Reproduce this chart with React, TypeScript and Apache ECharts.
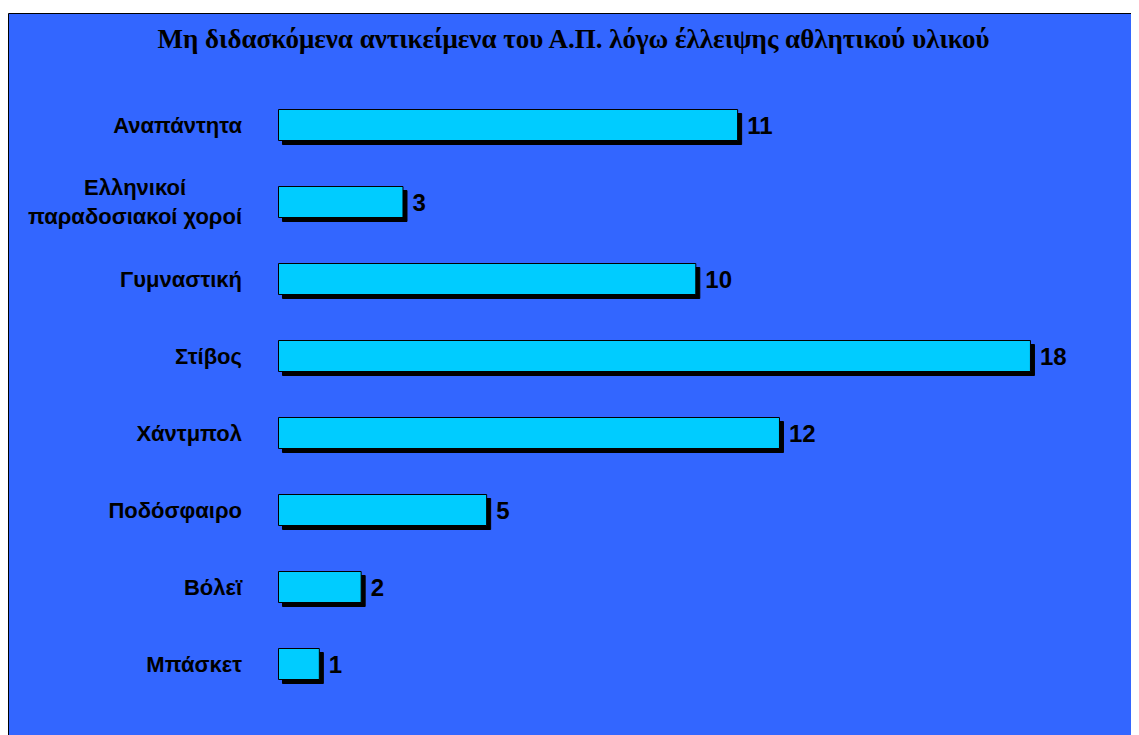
import React, { useEffect, useRef } from "react";
import * as echarts from "echarts";

const title = "Μη διδασκόμενα αντικείμενα του Α.Π. λόγω έλλειψης αθλητικού υλικού";
const categories = [
  "Αναπάντητα",
  "Ελληνικοί\nπαραδοσιακοί χοροί",
  "Γυμναστική",
  "Στίβος",
  "Χάντμπολ",
  "Ποδόσφαιρο",
  "Βόλεϊ",
  "Μπάσκετ",
];
const values = [11, 3, 10, 18, 12, 5, 2, 1];

export default function App() {
  const ref = useRef<HTMLDivElement>(null);
  useEffect(() => {
    if (!ref.current) return;
    const chart = echarts.init(ref.current, null, { renderer: "svg" });
    chart.setOption({
      animation: false,
      backgroundColor: "#ffffff",
      graphic: [
        {
          type: "rect",
          z: -10,
          silent: true,
          shape: { x: 0.5, y: 5.5, width: 1200, height: 800 },
          style: { fill: "#3366FF", stroke: "#000000", lineWidth: 1 },
        },
      ],
      title: {
        text: title,
        left: "center",
        top: 12,
        textStyle: {
          fontFamily: "Liberation Serif",
          fontWeight: "bold",
          fontSize: 27,
          color: "#000000",
        },
      },
      grid: { left: 270, right: 24.4, top: 78.5, bottom: 32.5, containLabel: false },
      xAxis: {
        type: "value",
        min: 0,
        max: 20,
        show: false,
      },
      yAxis: {
        type: "category",
        data: categories,
        inverse: true,
        axisLine: { show: false },
        axisTick: { show: false },
        splitLine: { show: false },
        axisLabel: {
          margin: 36,
          color: "#000000",
          fontFamily: "Liberation Sans",
          fontWeight: "bold",
          fontSize: 22,
          lineHeight: 29,
          formatter: (v: string) =>
            v
              .split("\n")
              .map((l) => "{c|" + l + "}")
              .join("\n"),
          rich: {
            c: {
              align: "center",
              fontFamily: "Liberation Sans",
              fontWeight: "bold",
              fontSize: 22,
              lineHeight: 29,
              color: "#000000",
            },
          },
        },
      },
      series: [
        {
          type: "bar",
          data: values,
          barWidth: 32,
          itemStyle: {
            color: "#00CCFF",
            borderColor: "#000000",
            borderWidth: 1,
            shadowColor: "#000000",
            shadowBlur: 0,
            shadowOffsetX: 4,
            shadowOffsetY: 4,
          },
          label: {
            show: true,
            position: "right",
            distance: 9,
            color: "#000000",
            fontFamily: "Liberation Sans",
            fontWeight: "bold",
            fontSize: 24,
          },
        },
      ],
    });
    return () => chart.dispose();
  }, []);
  return <div ref={ref} style={{ width: 1131, height: 727 }} />;
}
